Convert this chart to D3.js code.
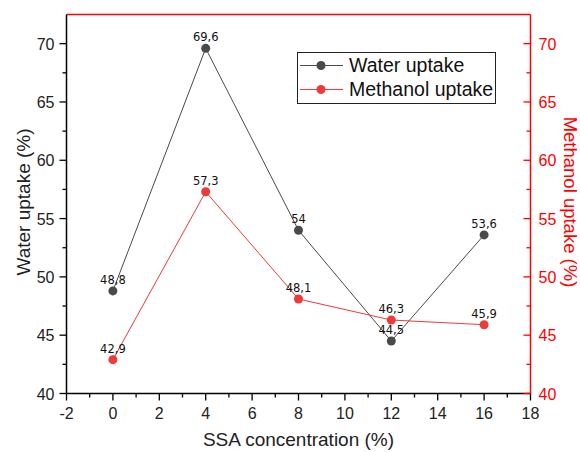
<!DOCTYPE html>
<html>
<head>
<meta charset="utf-8">
<script src="https://cdn.jsdelivr.net/npm/d3@7"></script>
<style>
  body { margin: 0; background: #fff; }
  svg { font-family: "Liberation Sans", Arial, sans-serif; display: block; }
</style>
</head>
<body>
<svg id="chart" width="580" height="452"></svg>
<script>
  // data
  const concentrations = [0, 4, 8, 12, 16]
  const waterUptake = [48.8, 69.6, 54, 44.5, 53.6]
  const methanolUptake = [42.9, 57.3, 48.1, 46.3, 45.9]
  const waterLabels = ['48,8', '69,6', '54', '44,5', '53,6']
  const methanolLabels = ['42,9', '57,3', '48,1', '46,3', '45,9']
  const xTicks = [-2, 0, 2, 4, 6, 8, 10, 12, 14, 16, 18]
  const yTicks = [40, 45, 50, 55, 60, 65, 70]

  const plotL = 66.5, plotR = 530.5, plotT = 14.5, plotB = 393.5
  const RED = '#ff0000'
  const WATER = '#4a4a4a'
  const METH = '#ef3a3a'

  const svg = d3.select('#chart')

  const x = d3.scaleLinear().domain([-2, 18]).range([plotL, plotR])
  const yL = d3.scaleLinear().domain([40, 72.5]).range([plotB, plotT])
  const yR = d3.scaleLinear().domain([40, 72.5]).range([plotB, plotT])

  // top frame line (red)
  svg.append('line').attr('x1', plotL).attr('x2', plotR).attr('y1', plotT).attr('y2', plotT)
    .attr('stroke', RED).attr('stroke-width', 1.5)

  // bottom axis
  const xMinor = d3.range(-2, 18.01, 1)
  const gx = svg.append('g')
  gx.selectAll('line.minor').data(xMinor).join('line')
    .attr('x1', d => x(d)).attr('x2', d => x(d))
    .attr('y1', plotB).attr('y2', d => plotB + (d % 2 === 0 ? 7 : 4))
    .attr('stroke', '#000').attr('stroke-width', 1.3)
  gx.append('line').attr('x1', plotL).attr('x2', plotR).attr('y1', plotB).attr('y2', plotB)
    .attr('stroke', '#000').attr('stroke-width', 1.5)
  gx.selectAll('text').data(xTicks).join('text')
    .attr('x', d => x(d)).attr('y', plotB + 25)
    .attr('text-anchor', 'middle').attr('font-size', 16).attr('fill', '#222')
    .text(d => d)

  // left axis
  const yMinor = d3.range(40, 72.5, 2.5)
  const gl = svg.append('g')
  gl.selectAll('line').data(yMinor).join('line')
    .attr('x1', d => plotL - (d % 5 === 0 ? 7 : 4)).attr('x2', plotL)
    .attr('y1', d => yL(d)).attr('y2', d => yL(d))
    .attr('stroke', '#000').attr('stroke-width', 1.3)
  gl.append('line').attr('x1', plotL).attr('x2', plotL).attr('y1', plotT).attr('y2', plotB)
    .attr('stroke', '#000').attr('stroke-width', 1.5)
  gl.selectAll('text').data(yTicks).join('text')
    .attr('x', plotL - 12).attr('y', d => yL(d) + 6)
    .attr('text-anchor', 'end').attr('font-size', 16).attr('fill', '#222')
    .text(d => d)

  // right axis (red, ticks inward)
  const gr = svg.append('g')
  gr.selectAll('line').data(yMinor).join('line')
    .attr('x1', d => plotR - (d % 5 === 0 ? 7 : 4)).attr('x2', plotR)
    .attr('y1', d => yR(d)).attr('y2', d => yR(d))
    .attr('stroke', RED).attr('stroke-width', 1.3)
  gr.append('line').attr('x1', plotR).attr('x2', plotR).attr('y1', plotT).attr('y2', plotB)
    .attr('stroke', RED).attr('stroke-width', 1.5)
  gr.selectAll('text').data(yTicks).join('text')
    .attr('x', plotR + 8).attr('y', d => yR(d) + 6)
    .attr('text-anchor', 'start').attr('font-size', 16).attr('fill', RED)
    .text(d => d)

  // axis titles
  svg.append('text').attr('x', (plotL + plotR) / 2).attr('y', 446)
    .attr('text-anchor', 'middle').attr('font-size', 19).attr('fill', '#222')
    .text('SSA concentration (%)')
  svg.append('text')
    .attr('transform', 'translate(30,202) rotate(-90)')
    .attr('text-anchor', 'middle').attr('font-size', 19).attr('fill', '#222')
    .text('Water uptake (%)')
  svg.append('text')
    .attr('transform', 'translate(563.5,202) rotate(90)')
    .attr('text-anchor', 'middle').attr('font-size', 18.5).attr('fill', RED)
    .text('Methanol uptake (%)')

  // series
  function drawSeries(vals, labels, scale, color) {
    const pts = concentrations.map((c, i) => [x(c), scale(vals[i])])
    svg.append('path').attr('d', d3.line()(pts))
      .attr('fill', 'none').attr('stroke', color).attr('stroke-width', 1)
    svg.append('g').selectAll('circle').data(pts).join('circle')
      .attr('cx', d => d[0]).attr('cy', d => d[1]).attr('r', 4.5)
      .attr('fill', color)
    svg.append('g').selectAll('text').data(pts).join('text')
      .attr('x', d => d[0]).attr('y', d => d[1] - 7)
      .attr('text-anchor', 'middle').attr('font-size', 11.5)
      .attr('font-family', '"DejaVu Sans", sans-serif').attr('fill', '#111')
      .text((d, i) => labels[i])
  }
  drawSeries(waterUptake, waterLabels, yL, WATER)
  drawSeries(methanolUptake, methanolLabels, yR, METH)

  // legend
  const lg = svg.append('g')
  lg.append('rect').attr('x', 297.5).attr('y', 52.5).attr('width', 198).attr('height', 51)
    .attr('fill', '#fff').attr('stroke', '#222').attr('stroke-width', 1)
  const legendItems = [['Water uptake', WATER], ['Methanol uptake', METH]]
  legendItems.forEach((it, i) => {
    const cy = 65.5 + i * 24
    lg.append('line').attr('x1', 300).attr('x2', 343).attr('y1', cy).attr('y2', cy)
      .attr('stroke', it[1]).attr('stroke-width', 1)
    lg.append('circle').attr('cx', 321).attr('cy', cy).attr('r', 4.5).attr('fill', it[1])
    lg.append('text').attr('x', 349).attr('y', cy + 6.5).attr('font-size', 19.5)
      .attr('fill', '#111').text(it[0])
  })
</script>
</body>
</html>
